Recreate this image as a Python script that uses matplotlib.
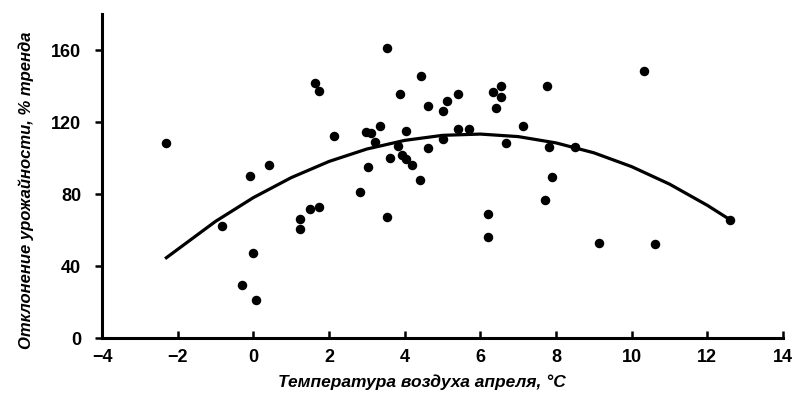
import numpy as np
import matplotlib.pyplot as plt

# observed points: April air temperature (C) vs yield deviation (% of trend)
temp = [-2.31, -0.82, -0.09, 0.0, -0.29, 0.07, 0.42, 1.22, 1.22, 1.50,
        1.73, 3.02, 2.83, 3.52, 3.61, 3.52, 1.64, 1.73, 2.13, 2.99,
        3.12, 3.36, 3.21, 3.88, 4.42, 4.62, 5.11, 5.40, 5.00, 6.33,
        6.55, 6.54, 6.42, 7.76, 4.03, 5.40, 5.71, 7.13, 5.00, 4.61,
        6.68, 7.81, 3.83, 3.94, 4.03, 4.20, 4.40, 7.90, 8.51, 10.33,
        7.72, 6.19, 6.19, 9.13, 10.62, 12.61]
dev = [108.3, 62.0, 90.0, 47.4, 29.4, 21.0, 96.0, 66.0, 60.4, 71.8,
       73.0, 94.8, 81.0, 67.4, 99.8, 161.0, 141.8, 137.0, 112.2, 114.6,
       113.7, 117.6, 109.0, 135.5, 145.7, 129.0, 131.7, 135.4, 126.0, 136.8,
       140.2, 134.0, 127.6, 140.0, 115.0, 115.9, 115.9, 117.8, 110.4, 105.7,
       108.5, 106.3, 106.7, 101.7, 99.3, 96.0, 87.8, 89.3, 106.3, 148.3,
       76.5, 68.9, 56.3, 53.0, 52.2, 65.6]

# trend curve
curve_x = [-2.3, -1, 0, 1, 2, 3, 4, 5, 6, 7, 8, 9, 10, 11, 12, 12.6]
curve_y = [44.6, 64.8, 78.0, 89.1, 98.1, 105.0, 109.8, 112.6, 113.3,
           111.9, 108.4, 102.9, 95.2, 85.5, 73.7, 65.7]

xticks = [-4, -2, 0, 2, 4, 6, 8, 10, 12, 14]
yticks = [0, 40, 80, 120, 160]

plt.rcParams['font.family'] = ['Liberation Sans Narrow', 'Liberation Sans', 'DejaVu Sans']

fig = plt.figure(figsize=(7.94, 3.94), dpi=100)
ax = fig.add_axes([0.1285, 0.1421, 0.8577, 0.8223])

ax.scatter(temp, dev, s=34, c='black', marker='o', zorder=3)
ax.plot(curve_x, curve_y, color='black', linewidth=2.3, zorder=2)

ax.set_xlim(-4, 14)
ax.set_ylim(0, 180)
ax.set_xticks(xticks)
ax.set_yticks(yticks)

for side in ['top', 'right']:
    ax.spines[side].set_visible(False)
for side in ['left', 'bottom']:
    ax.spines[side].set_linewidth(2.2)

ax.tick_params(axis='x', direction='in', length=5, width=1.8, pad=8)
ax.tick_params(axis='y', direction='out', length=5, width=1.8, pad=10)
for lbl in ax.get_xticklabels() + ax.get_yticklabels():
    lbl.set_fontsize(13)
    lbl.set_fontweight('bold')

ax.set_xlabel('Температура воздуха апреля, °С', fontsize=12.5,
              fontweight='bold', fontstyle='italic',
              family=['Liberation Sans', 'DejaVu Sans'])
ax.xaxis.set_label_coords(0.47, -0.112)
ax.set_ylabel('Отклонение урожайности, % тренда', fontsize=12,
              fontweight='bold', fontstyle='italic')
ax.yaxis.set_label_coords(-0.1, 0.455)

fig.savefig('out.png', dpi=100)
